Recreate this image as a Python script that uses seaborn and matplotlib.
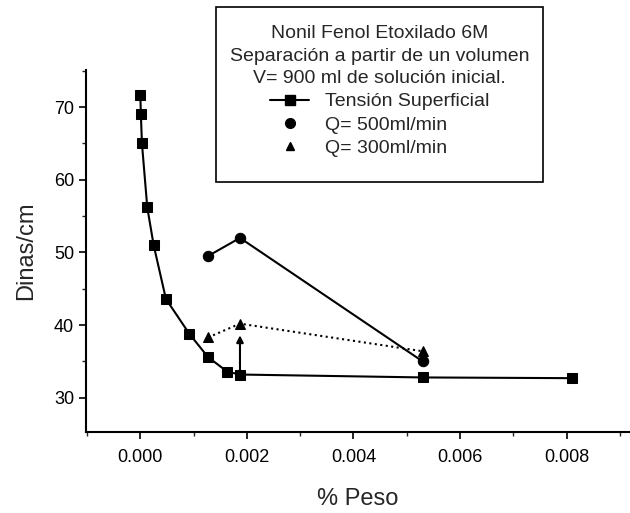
import matplotlib
matplotlib.use("Agg")
import matplotlib.pyplot as plt
import seaborn as sns
from matplotlib.lines import Line2D
from matplotlib.patches import Rectangle
from matplotlib.ticker import MultipleLocator

# Tensión superficial vs concentración
peso_tension = [0.0, 0.00001, 0.00003, 0.00013, 0.00025, 0.00048,
                0.00092, 0.00127, 0.00163, 0.00187, 0.0053, 0.0081]
dinas_tension = [71.6, 69.0, 65.0, 56.2, 51.0, 43.6,
                 38.8, 35.6, 33.6, 33.2, 32.8, 32.7]

# Q = 500 ml/min
peso_q500 = [0.00127, 0.00187, 0.0053]
dinas_q500 = [49.5, 52.0, 35.0]

# Q = 300 ml/min
peso_q300 = [0.00127, 0.00187, 0.0053]
dinas_q300 = [38.3, 40.2, 36.4]

# flecha desde la tensión hasta Q=300
flecha_x = 0.00187
flecha_y = [33.5, 38.6]

titulo = ("Nonil Fenol Etoxilado 6M\n"
          "Separación a partir de un volumen\n"
          "V= 900 ml de solución inicial.")

sns.set_style("ticks")
plt.rcParams['font.family'] = ['Liberation Sans', 'DejaVu Sans']

W, H = 630, 513
fig = plt.figure(figsize=(6.3, 5.13), dpi=100)
ax = fig.add_axes([0.1365, 0.158, 0.8635, 0.7055])

sns.lineplot(x=peso_tension, y=dinas_tension, ax=ax, color="black",
             marker="s", markersize=7.5, markeredgecolor="black",
             linewidth=1.5, estimator=None)
sns.lineplot(x=peso_q500, y=dinas_q500, ax=ax, color="black",
             marker="o", markersize=7.5, markeredgecolor="black",
             linewidth=1.5, estimator=None)
sns.lineplot(x=peso_q300, y=dinas_q300, ax=ax, color="black",
             marker="^", markersize=7, markeredgecolor="black",
             linewidth=1.5, linestyle=":", estimator=None)

ax.annotate("", xy=(flecha_x, flecha_y[1]), xytext=(flecha_x, flecha_y[0]),
            arrowprops=dict(arrowstyle="-|>", color="black", lw=1.5,
                            mutation_scale=10, shrinkA=0, shrinkB=0))

ax.set_xlim(-0.00102, 0.00919)
ax.set_ylim(25.3, 75.1)
ax.xaxis.set_major_locator(MultipleLocator(0.002))
ax.xaxis.set_minor_locator(MultipleLocator(0.001))
ax.yaxis.set_major_locator(MultipleLocator(10))
ax.yaxis.set_minor_locator(MultipleLocator(5))
ax.xaxis.set_major_formatter(matplotlib.ticker.FormatStrFormatter("%.3f"))
ax.tick_params(which="major", direction="out", length=5, width=1.2,
               labelsize=13, colors="black")
ax.tick_params(axis="x", which="major", pad=7)
ax.tick_params(which="minor", direction="out", length=3, width=1.0)

sns.despine(ax=ax)
for s in ["left", "bottom"]:
    ax.spines[s].set_linewidth(1.5)
    ax.spines[s].set_color("black")

ax.set_xlabel("% Peso", fontsize=17, labelpad=16)
ax.set_ylabel("Dinas/cm", fontsize=17, labelpad=12)

handles = [
    Line2D([], [], color="black", marker="s", markersize=7, linewidth=1.5),
    Line2D([], [], color="black", marker="o", markersize=7, linestyle="none"),
    Line2D([], [], color="black", marker="^", markersize=6, linestyle="none"),
]
labels = ["Tensión Superficial", "Q= 500ml/min", "Q= 300ml/min"]
leg = fig.legend(handles, labels, title=titulo, loc="upper center",
                 bbox_to_anchor=((216 + 543) / 2 / W, 1 - 7 / H),
                 borderaxespad=0, fontsize=14, title_fontsize=14,
                 frameon=False, borderpad=0.95, handlelength=2.0,
                 labelspacing=0.3)
leg.get_title().set_multialignment("center")
leg.get_title().set_linespacing(1.4)

# marco del cuadro de leyenda
fig.patches.append(Rectangle((216 / W, 1 - 182 / H), (543 - 216) / W,
                             (182 - 7) / H, transform=fig.transFigure,
                             fill=False, edgecolor="black", linewidth=1.2,
                             zorder=5))

fig.savefig("out.png", dpi=100)
